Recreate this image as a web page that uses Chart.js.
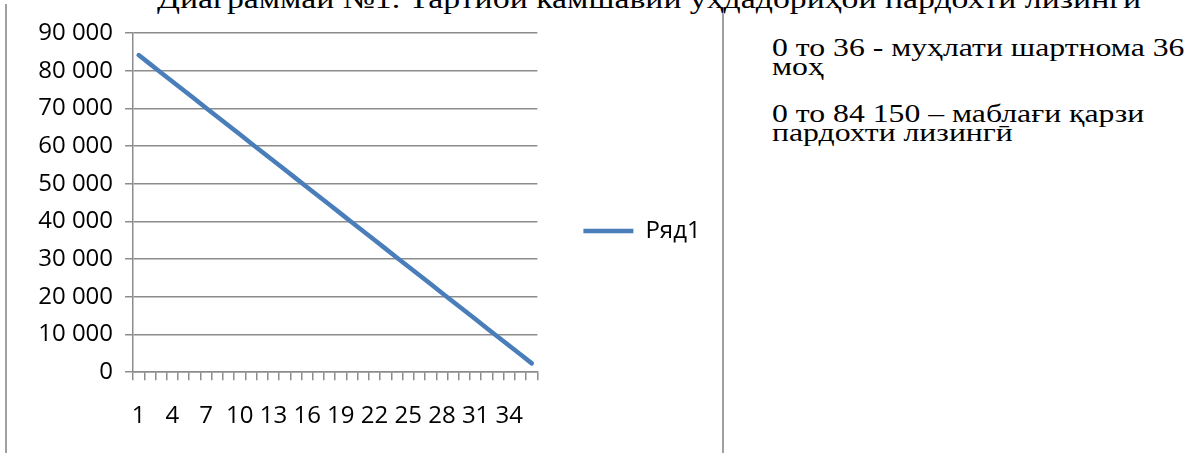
<!DOCTYPE html>
<html>
<head>
<meta charset="utf-8">
<script src="https://cdn.jsdelivr.net/npm/chart.js@4/dist/chart.umd.min.js"></script>
<style>
  html, body { margin: 0; padding: 0; background: #fff; }
  body { width: 1196px; height: 453px; overflow: hidden; position: relative; }
  #title { position: absolute; left: 157px; top: -15px; white-space: nowrap; transform-origin: 0 0; transform: scaleX(1.205);
           font-family: "Liberation Serif", serif; font-size: 28px; line-height: 28px; color: #000; }
  .vline { position: absolute; width: 2px; background: #a0a0a0; }
  #note { position: absolute; left: 772px; top: 38px; font-family: "Liberation Serif", serif; transform-origin: 0 0; transform: scaleX(1.22);
          font-size: 26px; line-height: 19px; color: #000; white-space: nowrap; }
  #note div { height: 19px; }
  #wrap { position: absolute; left: 0; top: 0; width: 722px; height: 453px; }
</style>
</head>
<body>
<div id="title">Диаграммаи №1. Тартиби камшавии уҳдадориҳои пардохти лизингӣ</div>
<div class="vline" style="left:5px; top:4px; height:449px;"></div>
<div class="vline" style="left:722px; top:14px; height:439px;"></div>
<div id="note">
  <div>0 то 36 - муҳлати шартнома 36</div>
  <div>моҳ</div>
  <div style="height:28px"></div>
  <div>0 то 84 150 – маблағи қарзи</div>
  <div>пардохти лизингӣ</div>
</div>
<div id="wrap"><canvas id="c" width="722" height="453"></canvas></div>
<script>
// ---- data ----
const categories = ['1','2','3','4','5','6','7','8','9','10','11','12','13','14','15','16','17','18',
                    '19','20','21','22','23','24','25','26','27','28','29','30','31','32','33','34','35','36'];
const seriesName = 'Ряд1';
const balance = [84150, 81812.5, 79475, 77137.5, 74800, 72462.5, 70125, 67787.5, 65450, 63112.5,
                 60775, 58437.5, 56100, 53762.5, 51425, 49087.5, 46750, 44412.5, 42075, 39737.5,
                 37400, 35062.5, 32725, 30387.5, 28050, 25712.5, 23375, 21037.5, 18700, 16362.5,
                 14025, 11687.5, 9350, 7012.5, 4675, 2337.5];
const yMin = 0, yMax = 90000, yStep = 10000;
const xLabelEvery = 3;

const tickFont = { family: '"Open Sans", sans-serif', size: 24 };
const gridGray = '#8c8c8c';

function fmt(v) { return String(v).replace(/\B(?=(\d{3})+(?!\d))/g, ' '); }

new Chart(document.getElementById('c'), {
  type: 'line',
  data: {
    labels: categories,
    datasets: [{
      label: seriesName,
      data: balance,
      borderColor: '#4a7ebb',
      backgroundColor: '#4a7ebb',
      borderWidth: 4.5,
      borderCapStyle: 'round',
      pointRadius: 0,
      tension: 0,
      fill: false
    }]
  },
  options: {
    responsive: false,
    animation: false,
    events: [],
    layout: { padding: { left: 26.2, top: 9, right: 14.2, bottom: 0 } },
    plugins: {
      title: { display: true, text: '', fullSize: false, font: { size: 10 }, padding: { top: 6, bottom: 6 } },
      tooltip: { enabled: false },
      legend: {
        position: 'right',
        align: 'center',
        labels: {
          usePointStyle: true,
          pointStyle: 'line',
          pointStyleWidth: 50,
          padding: 46,
          color: '#000',
          font: tickFont
        }
      }
    },
    scales: {
      x: {
        type: 'category',
        offset: true,
        grid: { offset: true, drawOnChartArea: false, drawTicks: true, tickLength: 8, color: gridGray, lineWidth: 1.5 },
        border: { color: gridGray, width: 1.5 },
        ticks: {
          autoSkip: false, maxRotation: 0, minRotation: 0, padding: 22, color: '#000', font: tickFont,
          callback: function (v, i) { return i % xLabelEvery === 0 ? categories[i] : ''; }
        }
      },
      y: {
        min: yMin, max: yMax,
        grid: { color: gridGray, lineWidth: 1.5, drawTicks: true, tickLength: 8 },
        border: { color: gridGray, width: 1.5 },
        ticks: { stepSize: yStep, padding: 12, color: '#000', font: tickFont, callback: v => fmt(v) }
      }
    }
  }
});
</script>
</body>
</html>
